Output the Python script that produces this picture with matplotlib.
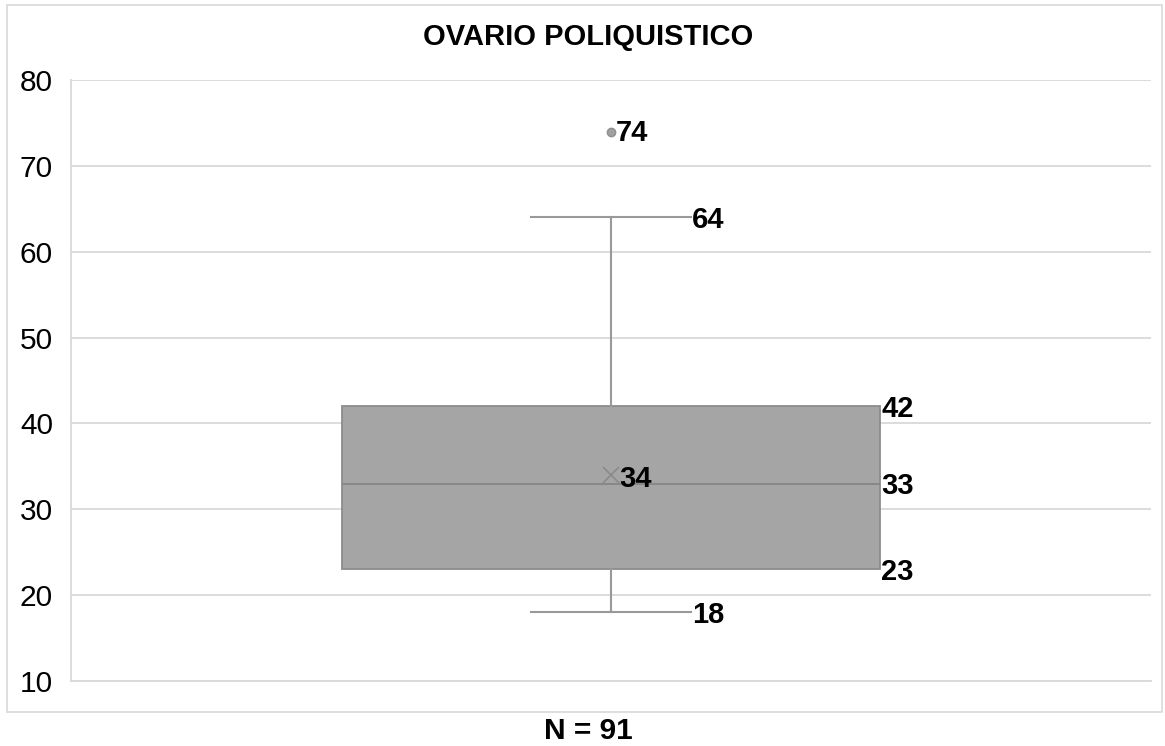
import matplotlib
matplotlib.use("Agg")
import matplotlib.pyplot as plt
from matplotlib.patches import Rectangle

plt.rcParams['font.family'] = ['Liberation Sans', 'DejaVu Sans']

title = "OVARIO POLIQUISTICO"
xlabel = "N = 91"
whislo = 18
q1 = 23
median = 33
mean = 34
q3 = 42
whishi = 64
outliers = [74]
yticks = [10, 20, 30, 40, 50, 60, 70, 80]

W, H = 1165, 746
fig = plt.figure(figsize=(W / 100, H / 100), dpi=100)
ax = fig.add_axes([71 / W, 1 - 681 / H, (1151 - 71) / W, (681 - 80) / H])

# chart border
fig.patches.append(Rectangle((7 / W, 1 - 712 / H), (1162 - 7) / W, (712 - 5) / H,
                             transform=fig.transFigure, fill=False,
                             edgecolor='#D9D9D9', linewidth=1.2))

stats = [dict(whislo=whislo, q1=q1, med=median, q3=q3, whishi=whishi,
              mean=mean, fliers=outliers)]
ax.bxp(stats, positions=[1], widths=0.498, capwidths=0.148, showmeans=True,
       patch_artist=True,
       boxprops=dict(facecolor='#A5A5A5', edgecolor='#8C8C8C', linewidth=1.3),
       medianprops=dict(color='#858585', linewidth=1.3),
       whiskerprops=dict(color='#999999', linewidth=1.5),
       capprops=dict(color='#999999', linewidth=1.5),
       meanprops=dict(marker='x', markeredgecolor='#8A8A8A', markersize=11,
                      markeredgewidth=1.2),
       flierprops=dict(marker='o', markerfacecolor='#A0A0A0',
                       markeredgecolor='#8F8F8F', markersize=6))

ax.set_xlim(0.5, 1.5)
ax.set_ylim(10, 80)
ax.set_yticks(yticks)
ax.set_xticks([])
ax.grid(axis='y', color='#D9D9D9', linewidth=1.3)
ax.set_axisbelow(True)
for s in ['top', 'right']:
    ax.spines[s].set_visible(False)
ax.spines['bottom'].set_color('#D9D9D9')
ax.spines['bottom'].set_linewidth(1.3)
ax.spines['left'].set_color('#D9D9D9')
ax.spines['left'].set_linewidth(1.3)
ax.tick_params(axis='y', length=0, pad=13, labelsize=21.5, labelcolor='#000000')

lab = dict(fontsize=21, fontweight='bold', va='center', ha='left', color='#000000')
boxr = 1 + 0.498 / 2
capr = 1 + 0.148 / 2
ax.text(boxr + 0.001, q3 - 0.3, f"{q3}", **lab)
ax.text(boxr + 0.001, median - 0.3, f"{median}", **lab)
ax.text(boxr + 0.001, q1 - 0.3, f"{q1}", **lab)
ax.text(capr + 0.001, whishi - 0.3, f"{whishi}", **lab)
ax.text(capr + 0.001, whislo - 0.3, f"{whislo}", **lab)
ax.text(1.008, mean - 0.5, f"{mean}", **lab)
for o in outliers:
    ax.text(1.004, o - 0.2, f"{o}", **lab)

fig.text(588 / W, 1 - 37 / H, title, fontsize=21, fontweight='bold',
         ha='center', va='center')
fig.text(588 / W, 1 - 731 / H, xlabel, fontsize=21.5, fontweight='bold',
         ha='center', va='center')

fig.savefig("out.png", dpi=100)
